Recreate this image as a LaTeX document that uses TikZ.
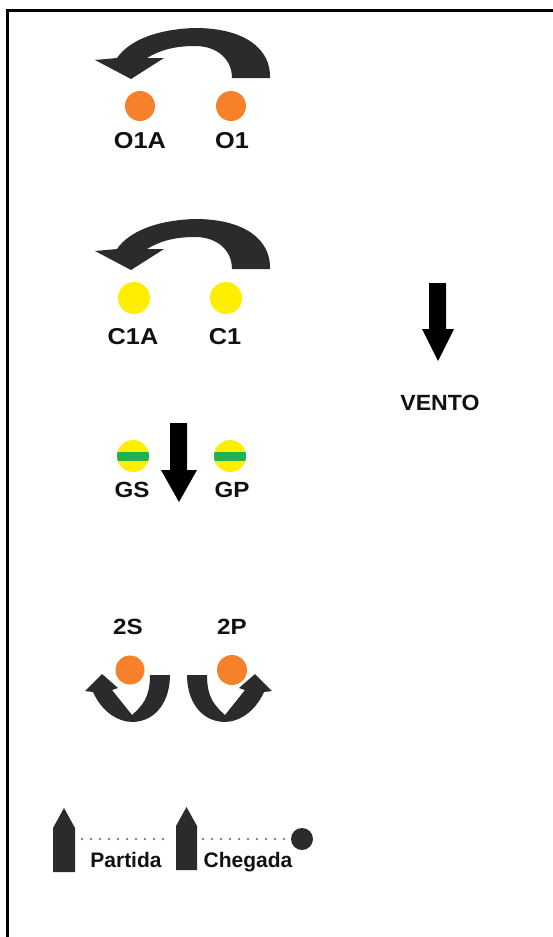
\documentclass[tikz,border=0pt]{standalone}
\usepackage{fontspec}
\setmainfont{Liberation Sans}
\usetikzlibrary{calc}
\definecolor{arr}{HTML}{2B2B2E}
\definecolor{org}{HTML}{F7802A}
\definecolor{yel}{HTML}{FFEE00}
\definecolor{grn}{HTML}{22B14C}
\definecolor{txt}{HTML}{111111}
\definecolor{dotc}{HTML}{808080}
\begin{document}
\begin{tikzpicture}[x=1pt,y=-1pt,
  lbl/.style={font=\fontsize{22}{26}\selectfont\bfseries, text=txt, inner sep=0pt},
  biglbl/.style={lbl, font=\fontsize{23}{27}\selectfont\bfseries},
  odot/.style={circle, fill=org, minimum size=30pt, inner sep=0pt},
  ydot/.style={circle, fill=yel, minimum size=32pt, inner sep=0pt},
  dotline/.style={dotc, line width=2.8pt, line cap=round, dash pattern=on 0pt off 9pt}]
\useasboundingbox (0,0) rectangle (553,937);
% border
\draw[line width=2.8pt] (553,10.3) -- (7.8,10.3) -- (7.8,937);
% curved arrows
\foreach \dy in {0,191}{
\fill[arr, yshift=-\dy pt] (232,78) -- (270,78) .. controls (271,49) and (245,28) .. (195,28)
  .. controls (160,29) and (130,39) .. (117,58) -- (95,60) -- (131,79) -- (164,58) -- (147,58)
  .. controls (160,50) and (175,46) .. (195,46) .. controls (218,46) and (232,60) .. (232,78) -- cycle;
}
% O1A / O1
\node[odot] (o1a) at (140,106) {};
\node[odot] (o1) at (231,106) {};
\node[biglbl] (lo1a) at (140,141) {\scalebox{1.1}[1]{O1A}};
\node[biglbl] (lo1) at (232,141) {\scalebox{1.1}[1]{O1}};
% C1A / C1
\node[ydot] (c1a) at (134,298) {};
\node[ydot] (c1) at (226,298) {};
\node[biglbl] (lc1a) at (133,337) {\scalebox{1.1}[1]{C1A}};
\node[biglbl] (lc1) at (225,337) {\scalebox{1.1}[1]{C1}};
% GS / GP
\node[ydot] (gs) at (133,456) {};
\node[ydot] (gp) at (230,456) {};
\foreach \n in {gs,gp}{
  \begin{scope}
    \clip (\n.center) circle (16);
    \fill[grn] ($(\n.center)+(-17,-4.5)$) rectangle ($(\n.center)+(17,4.5)$);
  \end{scope}
}
\node[lbl] (lgs) at (132,490) {\scalebox{1.1}[1]{GS}};
\node[lbl] (lgp) at (232,490) {\scalebox{1.1}[1]{GP}};
% middle black arrow
\fill[black] (170,423) -- (187,423) -- (187,470) -- (197,470) -- (179,502) -- (161,470) -- (170,470) -- cycle;
% VENTO
\fill[black] (429,283) -- (446,283) -- (446,329) -- (454,329) -- (438,361) -- (422,329) -- (429,329) -- cycle;
\node[lbl] (vento) at (440,403) {\scalebox{1.05}[1]{VENTO}};
% 2S / 2P
\node[lbl] (l2s) at (128,627) {\scalebox{1.1}[1]{2S}};
\node[lbl] (l2p) at (232,627) {\scalebox{1.1}[1]{2P}};
\node[odot, minimum size=29pt] (s2) at (130,670) {};
\node[odot] (p2) at (232,670) {};
\fill[arr] (170,675) -- (150,675) .. controls (150,698) and (142,706) .. (132,715)
  -- (112,690) -- (118,688) -- (102,674) -- (85,691) -- (93,692)
  .. controls (102,712) and (118,722) .. (133,722) .. controls (157,721) and (170,700) .. (170,675) -- cycle;
\fill[arr] (187,675) -- (207,675) .. controls (207,698) and (215,706) .. (225,715)
  -- (245,690) -- (239,688) -- (255,674) -- (272,691) -- (264,692)
  .. controls (255,712) and (239,722) .. (224,722) .. controls (200,721) and (187,700) .. (187,675) -- cycle;
% bottom markers
\fill[arr] (53,828) -- (64,808) -- (75,828) -- (75,872) -- (53,872) -- cycle;
\fill[arr] (176,826) -- (186.5,807) -- (197,826) -- (197,870) -- (176,870) -- cycle;
\coordinate (m1e) at (82,839);
\coordinate (m2w) at (168,839);
\coordinate (m2e) at (203,839);
\node[circle, fill=arr, minimum size=22pt, inner sep=0pt] (fin) at (302,839) {};
\draw[dotline] (m1e) -- (m2w);
\draw[dotline] (m2e) -- (fin.west);
\node[lbl, font=\fontsize{21}{25}\selectfont\bfseries] (partida) at (126,860) {Partida};
\node[lbl, font=\fontsize{21}{25}\selectfont\bfseries] (chegada) at (248,862) {Chegada};
\end{tikzpicture}
\end{document}
